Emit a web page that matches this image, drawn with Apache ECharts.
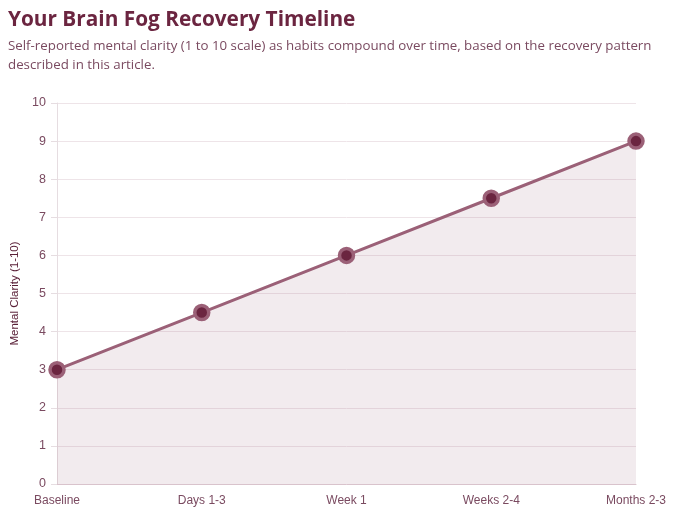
<!DOCTYPE html>
<html><head><meta charset="utf-8">
<script src="https://cdn.jsdelivr.net/npm/echarts@6/dist/echarts.min.js"></script>
<style>
html,body{margin:0;padding:0;background:#fff;}
#wrap{position:relative;width:683px;height:520px;overflow:hidden;}
#hdr{position:absolute;left:8px;top:4px;width:672px;font-family:"Open Sans","Noto Sans",sans-serif;}
#hdr h1{margin:0;font-size:20.8px;font-weight:700;color:#6b2540;line-height:28px;}
#hdr p{margin:4px 0 0 0;font-size:13.3px;color:#7a4a60;line-height:19px;}
#chart{position:absolute;left:0;top:0;width:683px;height:520px;}
</style></head>
<body><div id="wrap">
<div id="chart"></div>
<div id="hdr"><h1>Your Brain Fog Recovery Timeline</h1>
<p>Self-reported mental clarity (1 to 10 scale) as habits compound over time, based on the recovery pattern described in this article.</p></div>
</div>
<script>
const categories = ["Baseline","Days 1-3","Week 1","Weeks 2-4","Months 2-3"];
const clarity = [3, 4.5, 6, 7.5, 9];
const yTicks = {min:0, max:10, interval:1};
const chart = echarts.init(document.getElementById('chart'));
chart.setOption({
  animation:false,
  grid:{left:57,right:47,top:103,bottom:36},
  xAxis:{type:'category',data:categories,boundaryGap:false,
    axisLine:{lineStyle:{color:'#d9c3cc'}},axisTick:{show:false},
    axisLabel:{color:'#7a4a60',fontSize:12,margin:11,fontFamily:'Liberation Sans, Arial, sans-serif'},
    splitLine:{show:false}},
  yAxis:{type:'value',min:yTicks.min,max:yTicks.max,interval:yTicks.interval,
    name:'Mental Clarity (1-10)',nameLocation:'middle',nameGap:29,
    nameTextStyle:{color:'#5a2038',fontSize:11.5,fontFamily:'Liberation Sans, Arial, sans-serif'},
    axisLine:{show:true,lineStyle:{color:'#e6dde1'}},axisTick:{show:true,length:6,lineStyle:{color:'#e6dde1'}},
    axisLabel:{color:'#7a4a60',fontSize:12.5,margin:11,fontFamily:'Liberation Sans, Arial, sans-serif'},
    splitLine:{lineStyle:{color:'#eee4e8'}}},
  series:[{type:'line',data:clarity,symbol:'circle',symbolSize:14,
    lineStyle:{color:'#9b6077',width:3},
    itemStyle:{color:'#6b2540',borderColor:'#9b6077',borderWidth:3.5},
    areaStyle:{color:'rgba(155,96,119,0.18)'},z:3}]
});
</script></body></html>
